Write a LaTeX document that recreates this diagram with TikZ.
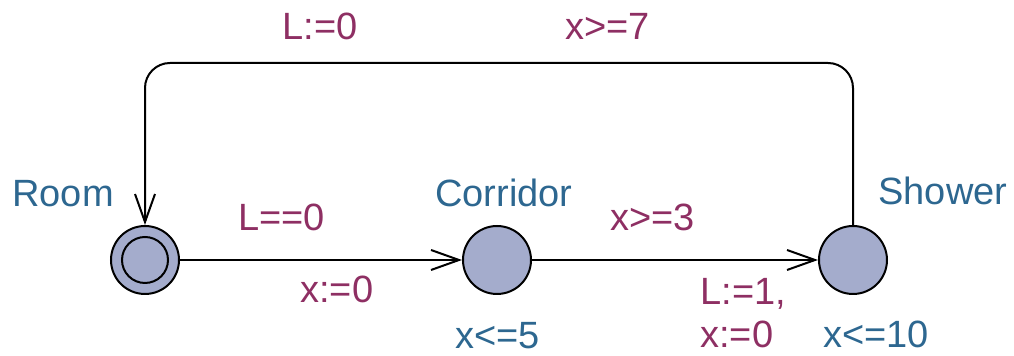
\documentclass[tikz,border=0pt]{standalone}
\usepackage{fontspec}
\setmainfont{Liberation Sans}
\usepackage{tikz}
\usetikzlibrary{positioning, arrows.meta}
\usepackage{xcolor}
\definecolor{LocFill}{HTML}{A4ACCC}
\definecolor{LocName}{HTML}{2D6790}
\definecolor{EdgeText}{HTML}{8E2F63}

\begin{document}
\begin{tikzpicture}[x=0.5pt, y=-0.5pt,
    location/.style={circle, draw, fill=LocFill, minimum size=34pt,
                     inner sep=0pt, line width=1pt},
    locname/.style={text=LocName, inner sep=0pt,
                    font=\fontsize{19pt}{21.5pt}\selectfont},
    edgelabel/.style={text=EdgeText, inner sep=0pt, align=left,
                      font=\fontsize{19pt}{21.5pt}\selectfont},
    link/.style={-{Straight Barb[length=14pt, width=10pt]}, line width=1pt}]
    \useasboundingbox (0,0) rectangle (1014,356);

    \node[location] (room)     at (145,260) {};
    \draw[line width=1pt] (room.center) circle[radius=11.5pt];
    \node[location] (corridor) at (497,260) {};
    \node[location] (shower)   at (853,260) {};

    \node[locname, anchor=base west] (roomname)     at (12,207)  {Room};
    \node[locname, anchor=base west] (corridorname) at (435,207) {Corridor};
    \node[locname, anchor=base west] (showername)   at (878,205) {Shower};
    \node[locname, anchor=base west] (corridorinv)  at (455,349) {x<=5};
    \node[locname, anchor=base west] (showerinv)    at (823,348) {x<=10};

    \node[edgelabel, anchor=base west] (guardA)  at (238,231) {L==0};
    \node[edgelabel, anchor=base west] (updateA) at (300,303) {x:=0};
    \node[edgelabel, anchor=base west] (guardB)  at (610,231) {x>=3};
    \node[edgelabel, anchor=north west] (updateB) at (700,278) {L:=1,\\x:=0};
    \node[edgelabel, anchor=base west] (updateC) at (282,40)  {L:=0};
    \node[edgelabel, anchor=base west] (guardC)  at (565,40)  {x>=7};

    \draw[link] (room) -- (corridor);
    \draw[link] (corridor) -- (shower);
    \draw[link, rounded corners=12.5pt] (shower.north) -- (shower.north |- 0,63) -| (room.north);
  \end{tikzpicture}
\end{document}
